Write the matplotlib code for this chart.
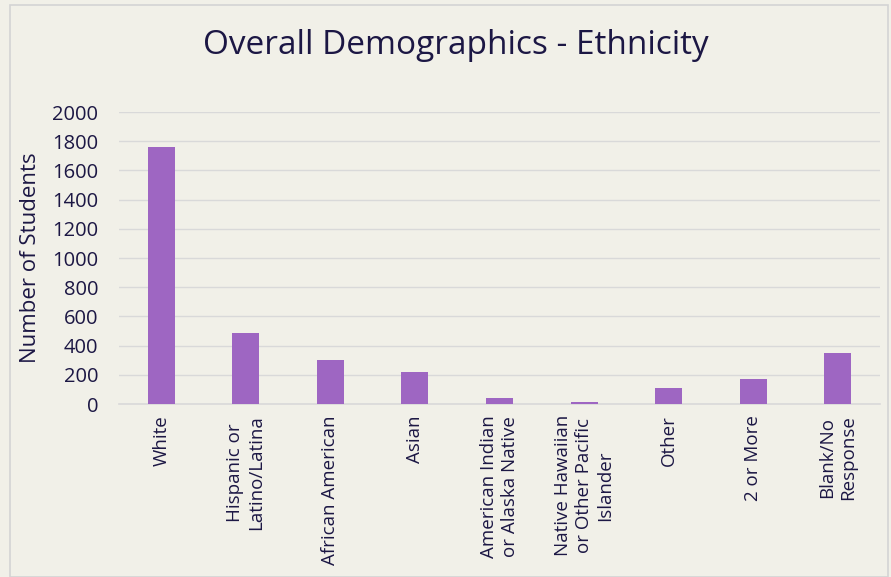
import numpy as np
import matplotlib.pyplot as plt
from matplotlib.patches import Rectangle

# Chart data
categories = ["White", "Hispanic or\nLatino/Latina", "African American", "Asian",
              "American Indian\nor Alaska Native", "Native Hawaiian\nor Other Pacific\nIslander",
              "Other", "2 or More", "Blank/No\nResponse"]
students = [1760, 486, 301, 219, 38, 14, 110, 171, 349]
y_ticks = [0, 200, 400, 600, 800, 1000, 1200, 1400, 1600, 1800, 2000]

bg = '#f1f0e8'
txt = '#1c1744'
bar_color = '#9e66c2'

plt.rcParams['font.family'] = ['Open Sans', 'DejaVu Sans']

fig = plt.figure(figsize=(8.91, 5.77), dpi=100, facecolor=bg)
# light frame around the chart
fig.patches.append(Rectangle((10/891, 0), 878/891, 572/577, transform=fig.transFigure,
                             fill=False, edgecolor='#d4d4d4', linewidth=1.2))

ax = fig.add_axes([119/891, 1 - 404/577, 761/891, 292/577])
ax.set_facecolor(bg)

x = np.arange(len(categories))
ax.bar(x, students, width=0.32, color=bar_color, zorder=3)

ax.set_xlim(-0.5, len(categories) - 0.5)
ax.set_ylim(0, 2000)
ax.set_yticks(y_ticks)
ax.yaxis.grid(True, color='#d9d9d9', linewidth=1, zorder=0)
ax.set_xticks(x)
ax.set_xticklabels(categories, rotation=90, multialignment='center',
                   fontsize=13.5, color=txt)
ax.tick_params(axis='y', labelsize=14.5, labelcolor=txt, length=0, pad=15)
ax.tick_params(axis='x', length=0, pad=8)
for s in ['top', 'right', 'left']:
    ax.spines[s].set_visible(False)
ax.spines['bottom'].set_color('#d9d9d9')
ax.spines['bottom'].set_linewidth(1.2)

ax.set_ylabel('Number of Students', fontsize=16, color=txt)
ax.yaxis.set_label_coords(-0.103, 0.5)
fig.text(456/891, 1 - 45/577, 'Overall Demographics - Ethnicity', ha='center', va='center',
         fontsize=24, color=txt)

plt.savefig('out.png', dpi=100, facecolor=bg)
